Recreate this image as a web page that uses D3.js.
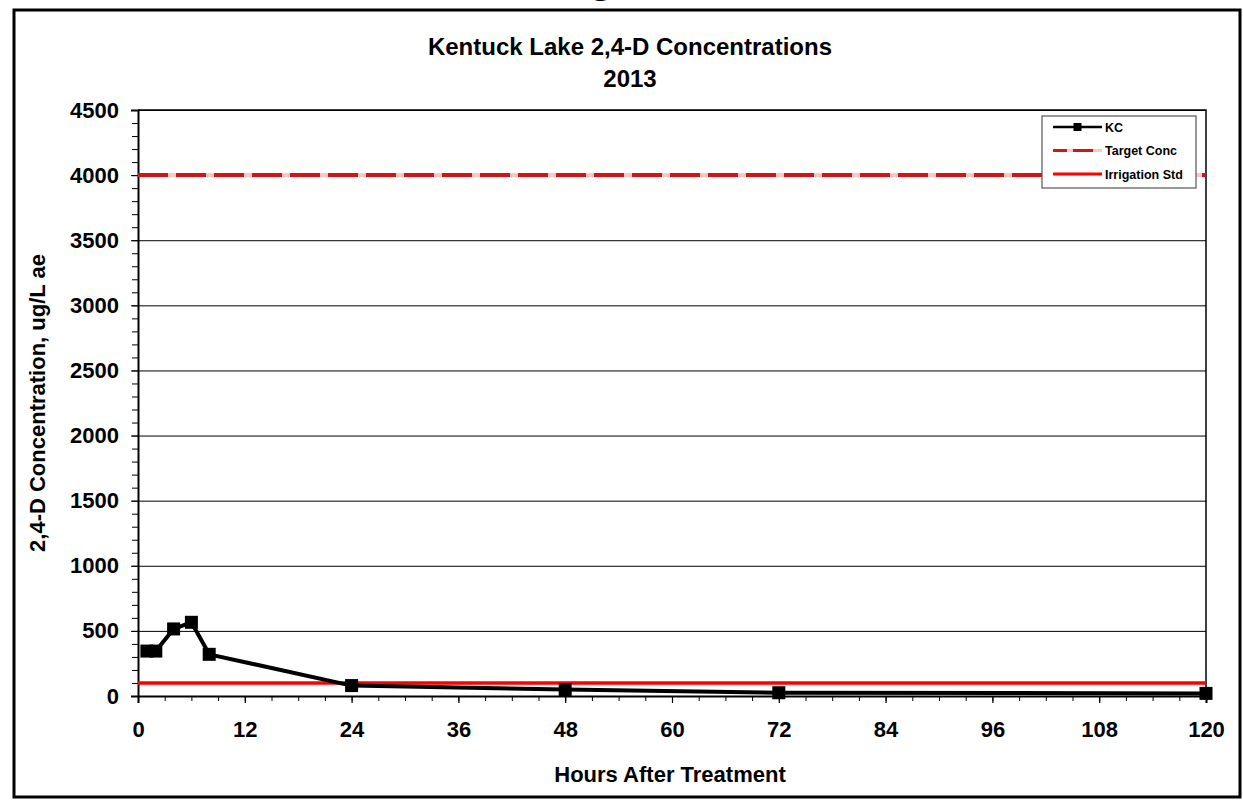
<!DOCTYPE html>
<html>
<head>
<meta charset="utf-8">
<script src="https://cdn.jsdelivr.net/npm/d3@7"></script>
<style>
  body { margin: 0; background: #fff; }
  text { font-family: "Liberation Sans", Arial, sans-serif; font-weight: bold; fill: #000; }
</style>
</head>
<body>
<div id="chart"></div>
<script>
// data
const hours = [1, 2, 4, 6, 8, 24, 48, 72, 120];
const kc = [345, 345, 515, 566, 320, 80, 50, 25, 20];
const targetConc = 4000;
const irrigationStd = 100;
const yTicks = [0, 500, 1000, 1500, 2000, 2500, 3000, 3500, 4000, 4500];
const xTicks = [0, 12, 24, 36, 48, 60, 72, 84, 96, 108, 120];
const legendNames = ["KC", "Target Conc", "Irrigation Std"];

// globals
let width = 1243, height = 804;
let plot = { left: 138, right: 1206, top: 110, bottom: 696 };

let svg = d3.select('#chart')
    .append('svg')
    .attr('width', width)
    .attr('height', height);

// cut-off text from the page above
svg.append('text')
    .attr('x', 601).attr('y', -7)
    .attr('text-anchor', 'middle')
    .style('font-family', '"Liberation Serif", serif')
    .style('font-weight', 'normal')
    .style('font-size', '38px')
    .text('g');

// outer frame
svg.append('rect')
    .attr('x', 14).attr('y', 10)
    .attr('width', 1226).attr('height', 787)
    .attr('fill', 'none')
    .attr('stroke', '#000')
    .attr('stroke-width', 3);

let x = d3.scaleLinear().domain([0, 120]).range([plot.left, plot.right]);
let y = d3.scaleLinear().domain([0, 4500]).range([plot.bottom, plot.top]);

// gridlines
svg.append('g')
    .attr('transform', `translate(${plot.left},0)`)
    .call(d3.axisLeft(y).tickValues(yTicks.slice(1)).tickSize(-(plot.right - plot.left)).tickFormat(''))
    .call(g => g.select('.domain').remove())
    .call(g => g.selectAll('line').attr('stroke', '#000').attr('stroke-width', 1));

// plot border (top and right)
svg.append('path')
    .attr('d', `M${plot.left},${plot.top}H${plot.right}V${plot.bottom}`)
    .attr('fill', 'none')
    .attr('stroke', '#000')
    .attr('stroke-width', 1.5);

// minor ticks
svg.append('g')
    .attr('transform', `translate(${plot.left},0)`)
    .call(d3.axisLeft(y).tickValues(d3.range(0, 4501, 100)).tickSize(6).tickFormat(''))
    .call(g => g.select('.domain').remove())
    .call(g => g.selectAll('line').attr('stroke', '#000').attr('stroke-width', 1));

svg.append('g')
    .attr('transform', `translate(0,${plot.bottom})`)
    .call(d3.axisBottom(x).tickValues(d3.range(0, 121, 3)).tickSize(5).tickFormat(''))
    .call(g => g.select('.domain').remove())
    .call(g => g.selectAll('line').attr('stroke', '#000').attr('stroke-width', 1));

// y axis
svg.append('g')
    .attr('transform', `translate(${plot.left},0)`)
    .call(d3.axisLeft(y).tickValues(yTicks).tickSize(7).tickPadding(12).tickFormat(d3.format('d')))
    .call(g => g.select('.domain').attr('stroke', '#000').attr('stroke-width', 2))
    .call(g => g.selectAll('line').attr('stroke', '#000').attr('stroke-width', 1))
    .call(g => g.selectAll('text').style('font-size', '22px').style('font-family', '"Liberation Sans", Arial, sans-serif').style('font-weight', 'bold').attr('fill', '#000'));

// x axis
svg.append('g')
    .attr('transform', `translate(0,${plot.bottom})`)
    .call(d3.axisBottom(x).tickValues(xTicks).tickSize(7).tickPadding(18).tickFormat(d3.format('d')))
    .call(g => g.select('.domain').attr('stroke', '#000').attr('stroke-width', 2))
    .call(g => g.selectAll('line').attr('stroke', '#000').attr('stroke-width', 1.2))
    .call(g => g.selectAll('text').style('font-size', '22px').style('font-family', '"Liberation Sans", Arial, sans-serif').style('font-weight', 'bold').attr('fill', '#000'));

// Target Conc line
svg.append('line')
    .attr('x1', x(0)).attr('x2', x(120))
    .attr('y1', y(targetConc)).attr('y2', y(targetConc))
    .attr('stroke', '#ffc4c4')
    .attr('stroke-width', 4);
svg.append('line')
    .attr('x1', x(0)).attr('x2', x(120))
    .attr('y1', y(targetConc)).attr('y2', y(targetConc))
    .attr('stroke', '#d41414')
    .attr('stroke-width', 4)
    .attr('stroke-dasharray', '30,8');

// Irrigation Std line
svg.append('line')
    .attr('x1', x(0)).attr('x2', x(120))
    .attr('y1', y(irrigationStd)).attr('y2', y(irrigationStd))
    .attr('stroke', '#ff0000')
    .attr('stroke-width', 3.5);

// KC series
let kcData = hours.map((h, i) => ({ h: h, v: kc[i] }));
svg.append('path')
    .datum(kcData)
    .attr('d', d3.line().x(d => x(d.h)).y(d => y(d.v)))
    .attr('fill', 'none')
    .attr('stroke', '#000')
    .attr('stroke-width', 4)
    .attr('stroke-linejoin', 'round');

svg.selectAll('rect.kc')
    .data(kcData)
    .enter()
    .append('rect')
    .attr('class', 'kc')
    .attr('x', d => x(d.h) - 6.5)
    .attr('y', d => y(d.v) - 6.5)
    .attr('width', 13)
    .attr('height', 13)
    .attr('fill', '#000');

// titles
svg.append('text')
    .attr('x', 630).attr('y', 55)
    .attr('text-anchor', 'middle')
    .style('font-size', '24px')
    .text('Kentuck Lake 2,4-D Concentrations');
svg.append('text')
    .attr('x', 630).attr('y', 87)
    .attr('text-anchor', 'middle')
    .style('font-size', '24px')
    .text('2013');

svg.append('text')
    .attr('x', 670).attr('y', 782)
    .attr('text-anchor', 'middle')
    .style('font-size', '22px')
    .text('Hours After Treatment');

svg.append('text')
    .attr('transform', `translate(45,${(plot.top + plot.bottom) / 2}) rotate(-90)`)
    .attr('text-anchor', 'middle')
    .style('font-size', '22px')
    .text('2,4-D Concentration, ug/L ae');

// legend
let legend = svg.append('g').attr('transform', 'translate(1042,116)');
legend.append('rect')
    .attr('width', 154).attr('height', 72)
    .attr('fill', '#fff')
    .attr('stroke', '#555')
    .attr('stroke-width', 1.2);

let rowY = d3.scalePoint().domain(legendNames).range([11, 58]);

// KC sample
legend.append('line')
    .attr('x1', 11).attr('x2', 60)
    .attr('y1', rowY('KC')).attr('y2', rowY('KC'))
    .attr('stroke', '#000').attr('stroke-width', 2.5);
legend.append('rect')
    .attr('x', 35.5 - 4).attr('y', rowY('KC') - 4)
    .attr('width', 8).attr('height', 8)
    .attr('fill', '#000');
// Target sample
legend.append('line')
    .attr('x1', 11).attr('x2', 60)
    .attr('y1', rowY('Target Conc')).attr('y2', rowY('Target Conc'))
    .attr('stroke', '#ffc4c4').attr('stroke-width', 3);
legend.append('line')
    .attr('x1', 11).attr('x2', 60)
    .attr('y1', rowY('Target Conc')).attr('y2', rowY('Target Conc'))
    .attr('stroke', '#d41414').attr('stroke-width', 3)
    .attr('stroke-dasharray', '14,6,20,30');
// Irrigation sample
legend.append('line')
    .attr('x1', 11).attr('x2', 60)
    .attr('y1', rowY('Irrigation Std')).attr('y2', rowY('Irrigation Std'))
    .attr('stroke', '#ff0000').attr('stroke-width', 3);

legend.selectAll('text.lg')
    .data(legendNames)
    .enter()
    .append('text')
    .attr('class', 'lg')
    .attr('x', 63)
    .attr('y', d => rowY(d))
    .attr('dy', '0.36em')
    .style('font-size', '12.5px')
    .text(d => d);
</script>
</body>
</html>
